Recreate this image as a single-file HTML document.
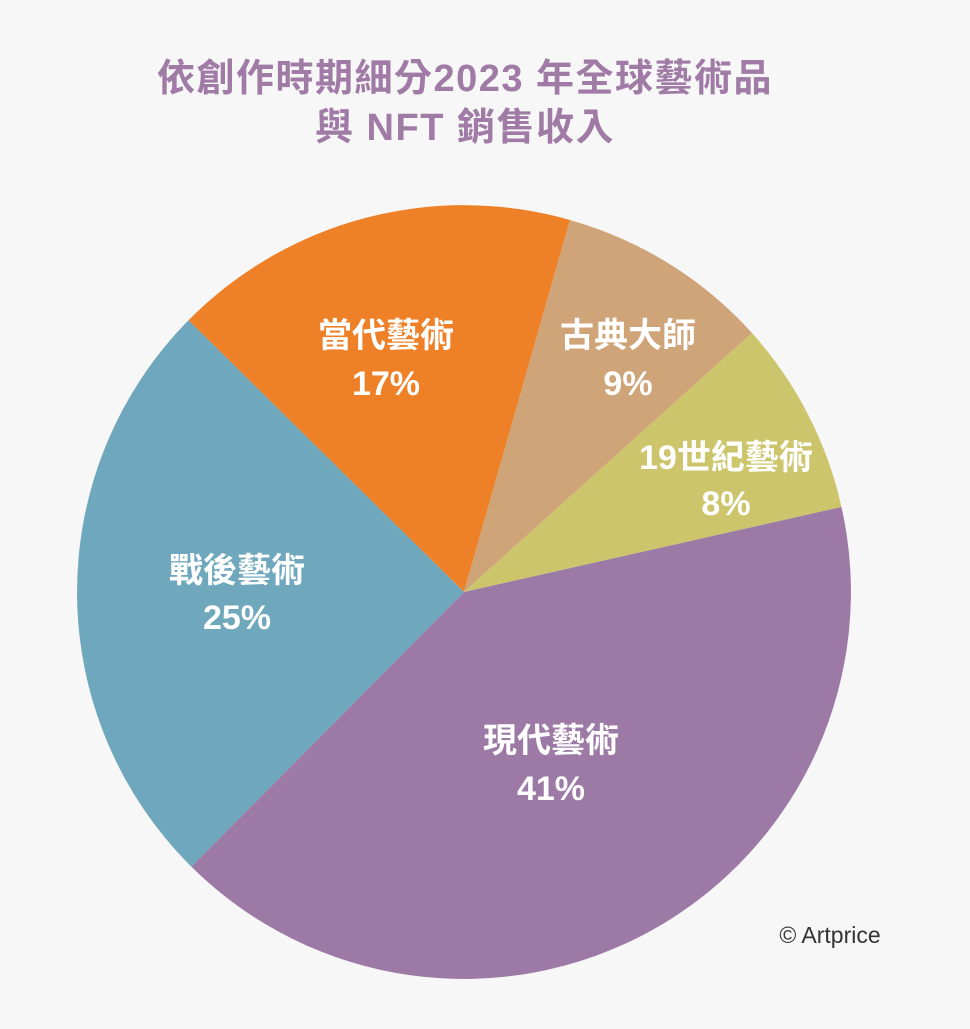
<!DOCTYPE html>
<html><head><meta charset="utf-8"><style>
html,body{margin:0;padding:0;background:#f7f7f7;}
body{width:970px;height:1024px;overflow:hidden;}
</style></head><body>
<svg width="970" height="1024" viewBox="0 0 970 1024" xmlns="http://www.w3.org/2000/svg">
<rect width="970" height="1024" fill="#f7f7f7"/>
<g font-family="'Liberation Sans','Noto Sans CJK TC',sans-serif" font-weight="bold" text-anchor="middle">
<text x="465" y="91" font-size="38" letter-spacing="1.5" fill="#a07ba6">依創作時期細分2023 年全球藝術品</text>
<text x="465" y="140" font-size="38" letter-spacing="1.5" fill="#a07ba6">與 NFT 銷售收入</text>
</g>
<g stroke="none">
<path d="M464,592 L188.5,320.3 A387,387 0 0 1 570,220 Z" fill="#ee8027"/>
<path d="M464,592 L570,220 A387,387 0 0 1 752,333 Z" fill="#cfa479"/>
<path d="M464,592 L752,333 A387,387 0 0 1 841.5,507 Z" fill="#cdc56b"/>
<path d="M464,592 L841.5,507 A387,387 0 0 1 191.3,866.6 Z" fill="#9d7aa6"/>
<path d="M464,592 L191.3,866.6 A387,387 0 0 1 188.5,320.3 Z" fill="#6fa8bc"/>
</g>
<g font-family="'Liberation Sans','Noto Sans CJK TC',sans-serif" font-weight="bold" font-size="34" fill="#ffffff" text-anchor="middle">
<text x="386" y="347">當代藝術</text><text x="386" y="395">17%</text>
<text x="628" y="347">古典大師</text><text x="628" y="395">9%</text>
<text x="726" y="469">19世紀藝術</text><text x="726" y="515">8%</text>
<text x="237" y="582">戰後藝術</text><text x="237" y="629">25%</text>
<text x="551" y="752">現代藝術</text><text x="551" y="800">41%</text>
</g>
<text x="830" y="943" font-family="'Liberation Sans',sans-serif" font-size="23" fill="#333" text-anchor="middle">© Artprice</text>
</svg>
</body></html>
